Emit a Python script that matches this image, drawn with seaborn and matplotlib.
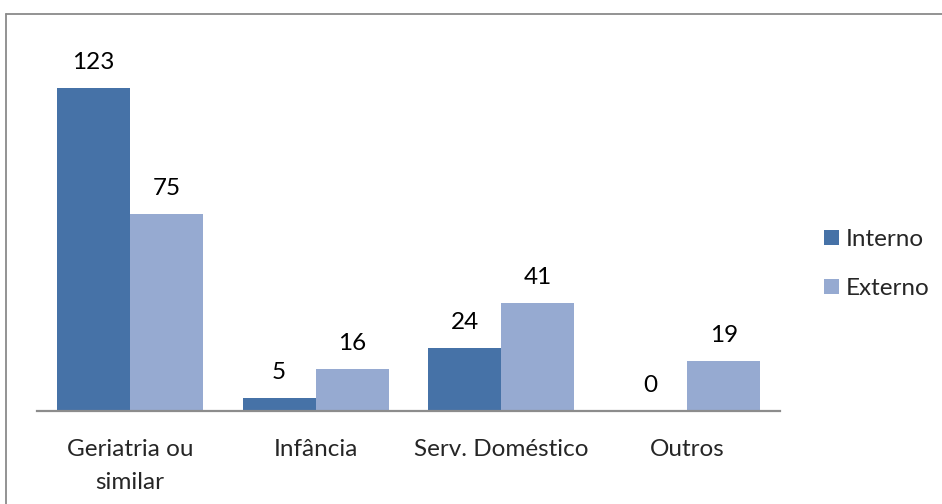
import matplotlib
matplotlib.use("Agg")
import matplotlib.pyplot as plt
import seaborn as sns
import pandas as pd
from matplotlib.lines import Line2D

categories = ["Geriatria ou\nsimilar", "Infância", "Serv. Doméstico", "Outros"]
interno = [123, 5, 24, 0]
externo = [75, 16, 41, 19]
series = ["Interno", "Externo"]
colors = ["#4672A7", "#96AAD1"]

df = pd.DataFrame({
    "cat": categories * 2,
    "val": interno + externo,
    "serie": [series[0]] * len(categories) + [series[1]] * len(categories),
})

sns.set_style("white")
plt.rcParams["font.family"] = ["Lato", "DejaVu Sans"]
FS = 17.5

W, H = 942, 504
fig = plt.figure(figsize=(W / 100, H / 100), dpi=100)
ax = fig.add_axes([37 / W, 1 - 411 / H, (780 - 37) / W, (411 - 43.4) / H])

sns.barplot(data=df, x="cat", y="val", hue="serie", palette=colors,
            width=0.786, saturation=1, ax=ax, legend=True, linewidth=0)

for cont in ax.containers:
    ax.bar_label(cont, padding=11, fontsize=FS, color="#000000")

ax.set_ylim(0, 140)
ax.set_xlim(-0.5, 3.5)
ax.set_xlabel("")
ax.set_ylabel("")
ax.set_yticks([])
for s in ["left", "right", "top"]:
    ax.spines[s].set_visible(False)
ax.spines["bottom"].set_color("#8C8C8C")
ax.spines["bottom"].set_linewidth(1.6)
ax.tick_params(axis="x", length=0, pad=20, labelsize=FS)
for t in ax.get_xticklabels():
    t.set_linespacing(1.7)
    t.set_verticalalignment("top")

handles, labels = ax.get_legend_handles_labels()
ax.get_legend().remove()
fig.legend(handles, labels, loc="center left",
           bbox_to_anchor=(824 / W, 1 - 264 / H), frameon=False,
           fontsize=FS, handlelength=0.6, handleheight=0.6,
           handletextpad=0.3, labelspacing=1.15, borderpad=0, borderaxespad=0)

# outer chart border (top and left visible)
fig.add_artist(Line2D([6 / W, 1.0], [1 - 14 / H, 1 - 14 / H], color="#8A8A8A", lw=1.3,
                      transform=fig.transFigure))
fig.add_artist(Line2D([6 / W, 6 / W], [0.0, 1 - 14 / H], color="#8A8A8A", lw=1.3,
                      transform=fig.transFigure))

fig.savefig("out.png", dpi=100)
